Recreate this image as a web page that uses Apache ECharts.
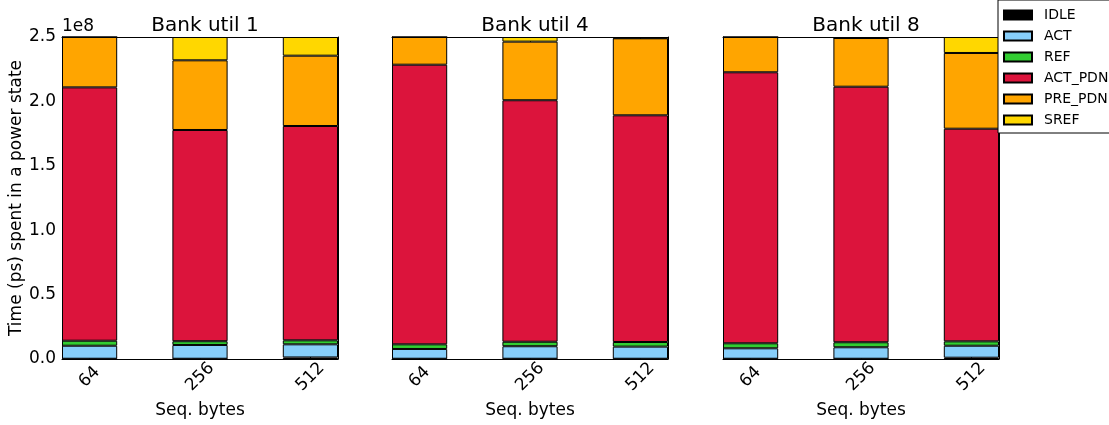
<!DOCTYPE html>
<html>
<head>
<meta charset="utf-8">
<script src="https://cdn.jsdelivr.net/npm/echarts@6/dist/echarts.min.js"></script>
<style>
  html, body { margin: 0; padding: 0; background: #fff; }
  #chart { width: 1109px; height: 425px; }
</style>
</head>
<body>
<div id="chart"></div>
<script>
// Sequential request sizes on the x axis of every panel
const categories = ['64', '256', '512'];
const panelTitles = ['Bank util 1', 'Bank util 4', 'Bank util 8'];
const stateNames = ['IDLE', 'ACT', 'REF', 'ACT_PDN', 'PRE_PDN', 'SREF'];
const stateColors = ['#000000', '#87CEFA', '#32CD32', '#DC143C', '#FFA500', '#FFD700'];
const yTickLabels = ['0.0', '0.5', '1.0', '1.5', '2.0', '2.5'];

// Time (ps) per power state, one array per state, values for 64 / 256 / 512 bytes
const util1_IDLE    = [0.002e8, 0.002e8, 0.012e8];
const util1_ACT     = [0.101e8, 0.107e8, 0.102e8];
const util1_REF     = [0.039e8, 0.029e8, 0.031e8];
const util1_ACT_PDN = [1.967e8, 1.640e8, 1.664e8];
const util1_PRE_PDN = [0.391e8, 0.541e8, 0.546e8];
const util1_SREF    = [0.000e8, 0.181e8, 0.145e8];

const util4_IDLE    = [0.002e8, 0.002e8, 0.002e8];
const util4_ACT     = [0.076e8, 0.097e8, 0.094e8];
const util4_REF     = [0.036e8, 0.035e8, 0.036e8];
const util4_ACT_PDN = [2.171e8, 1.875e8, 1.760e8];
const util4_PRE_PDN = [0.215e8, 0.455e8, 0.598e8];
const util4_SREF    = [0.000e8, 0.036e8, 0.004e8];

const util8_IDLE    = [0.002e8, 0.002e8, 0.010e8];
const util8_ACT     = [0.081e8, 0.089e8, 0.093e8];
const util8_REF     = [0.039e8, 0.039e8, 0.034e8];
const util8_ACT_PDN = [2.104e8, 1.984e8, 1.651e8];
const util8_PRE_PDN = [0.274e8, 0.378e8, 0.588e8];
const util8_SREF    = [0.000e8, 0.000e8, 0.124e8];

const panels = [
  [util1_IDLE, util1_ACT, util1_REF, util1_ACT_PDN, util1_PRE_PDN, util1_SREF],
  [util4_IDLE, util4_ACT, util4_REF, util4_ACT_PDN, util4_PRE_PDN, util4_SREF],
  [util8_IDLE, util8_ACT, util8_REF, util8_ACT_PDN, util8_PRE_PDN, util8_SREF]
];

const FONT = 'DejaVu Sans';
const gridLefts = [62, 392, 723];
const gridWidth = 276;
const gridTop = 37;
const gridHeight = 322;

// Bars sit in every other slot, with an empty half-width slot between them,
// so each bar is half as wide as the spacing of the bar centres.
const slots = [];
categories.forEach((c, i) => { if (i > 0) slots.push(''); slots.push(c); });
const isBarSlot = idx => idx % 2 === 0;
const toSlots = arr => {
  const out = [];
  arr.forEach((v, i) => { if (i > 0) out.push('-'); out.push(v); });
  return out;
};

const grids = [], xAxes = [], yAxes = [], series = [], titles = [];
const lineStyle = { color: '#000', width: 1 };

gridLefts.forEach((left, g) => {
  grids.push({
    left: left, top: gridTop, width: gridWidth, height: gridHeight,
    containLabel: false, outerBoundsMode: 'none'
  });

  titles.push({
    text: panelTitles[g],
    left: left + gridWidth / 2,
    top: 11,
    textAlign: 'center',
    textStyle: { fontFamily: FONT, fontSize: 20, fontWeight: 'normal', color: '#000' }
  });

  // bottom x axis: labels and inward ticks at bar centres
  xAxes.push({
    type: 'category', gridIndex: g, position: 'bottom',
    data: slots, boundaryGap: true,
    splitLine: { show: false },
    axisLine: { show: true, onZero: false, lineStyle },
    axisTick: { show: true, inside: true, length: 5, alignWithLabel: true, interval: isBarSlot, lineStyle },
    axisLabel: {
      show: true, interval: isBarSlot, rotate: 45, margin: 18,
      align: 'center', verticalAlign: 'middle',
      fontFamily: FONT, fontSize: 17, color: '#000'
    },
    name: 'Seq. bytes', nameLocation: 'middle', nameGap: 43,
    nameTextStyle: { fontFamily: FONT, fontSize: 17, color: '#000' }
  });
  // top x axis: frame edge with inward ticks
  xAxes.push({
    type: 'category', gridIndex: g, position: 'top',
    data: slots, boundaryGap: true,
    splitLine: { show: false },
    axisLine: { show: true, onZero: false, lineStyle },
    axisTick: { show: true, inside: true, length: 5, alignWithLabel: true, interval: isBarSlot, lineStyle },
    axisLabel: { show: false }
  });
  // left y axis
  const yLeft = {
    type: 'value', gridIndex: g, position: 'left',
    min: 0, max: 2.5e8, interval: 0.5e8,
    splitLine: { show: false },
    axisLine: { show: true, onZero: false, lineStyle },
    axisTick: { show: true, inside: true, length: 5, lineStyle },
    axisLabel: {
      show: g === 0, margin: 6,
      fontFamily: FONT, fontSize: 17, color: '#000',
      formatter: v => yTickLabels[Math.round(v / 0.5e8)]
    }
  };
  if (g === 0) {
    yLeft.name = 'Time (ps) spent in a power state';
    yLeft.nameLocation = 'middle';
    yLeft.nameGap = 37;
    yLeft.nameTextStyle = { fontFamily: FONT, fontSize: 17, color: '#000' };
  }
  yAxes.push(yLeft);
  // right y axis: frame edge with inward ticks
  yAxes.push({
    type: 'value', gridIndex: g, position: 'right',
    min: 0, max: 2.5e8, interval: 0.5e8,
    splitLine: { show: false },
    axisLine: { show: true, onZero: false, lineStyle },
    axisTick: { show: true, inside: true, length: 5, lineStyle },
    axisLabel: { show: false }
  });

  stateNames.forEach((name, s) => {
    series.push({
      name: name,
      type: 'bar',
      xAxisIndex: g * 2,
      yAxisIndex: g * 2,
      stack: 'panel' + g,
      barWidth: '100%',
      itemStyle: { color: stateColors[s], borderColor: '#000', borderWidth: 1 },
      emphasis: { disabled: true },
      data: toSlots(panels[g][s])
    });
  });
});

const chart = echarts.init(document.getElementById('chart'), null, { renderer: 'canvas' });
chart.setOption({
  animation: false,
  backgroundColor: '#fff',
  title: titles,
  grid: grids,
  xAxis: xAxes,
  yAxis: yAxes,
  series: series,
  legend: {
    data: stateNames,
    orient: 'vertical',
    left: 998, top: 0,
    itemWidth: 28, itemHeight: 9, itemGap: 7,
    padding: [8, 20, 6, 5],
    backgroundColor: '#fff',
    borderColor: '#000', borderWidth: 1, borderRadius: 0,
    icon: 'rect',
    textStyle: { fontFamily: FONT, fontSize: 14, lineHeight: 14, color: '#000', padding: [0, 0, 0, 7] },
    selectedMode: false
  },
  graphic: [{
    type: 'text',
    left: 62, top: 18,
    style: { text: '1e8', fontFamily: FONT, fontSize: 17, fill: '#000' }
  }]
});
</script>
</body>
</html>
